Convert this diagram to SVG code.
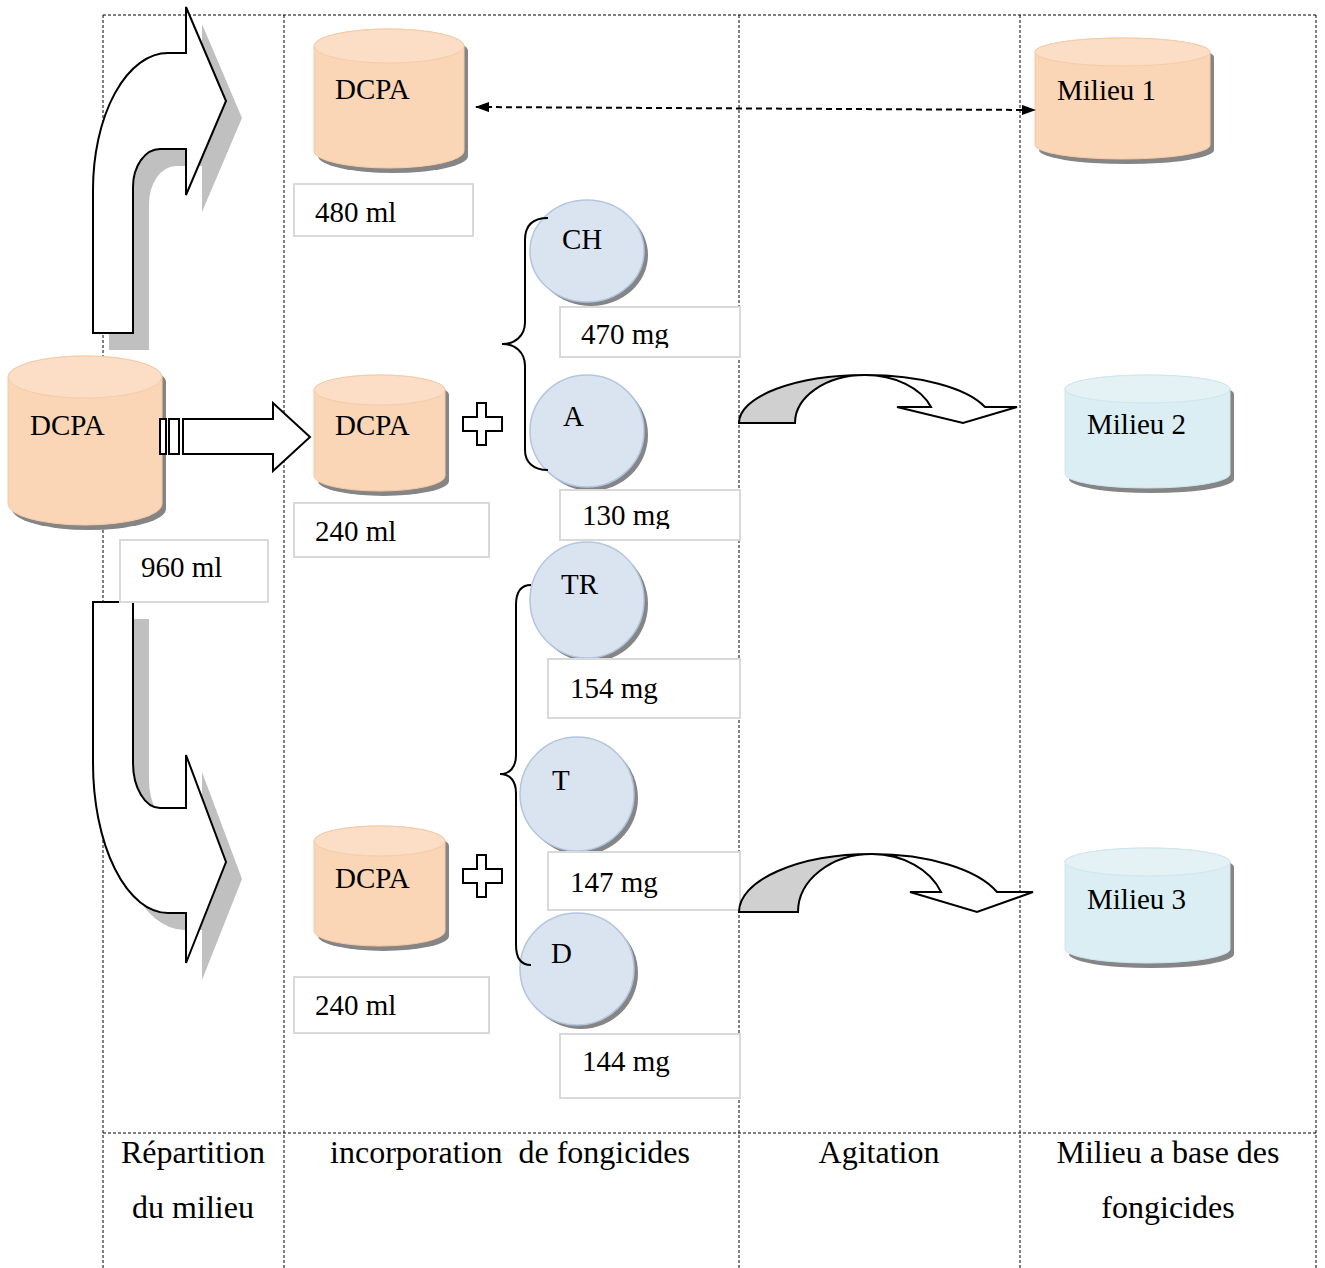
<svg xmlns="http://www.w3.org/2000/svg" width="1325" height="1268" viewBox="0 0 1325 1268">
<style>
.grid{stroke:#000;stroke-width:1;stroke-dasharray:3,2;fill:none}
.t{font-family:"Liberation Serif","Times New Roman",serif;font-size:29px;fill:#000}
.lbl{font-family:"Liberation Serif","Times New Roman",serif;font-size:32px;fill:#000;text-anchor:middle;white-space:pre}
.box{fill:#fff;stroke:#d9d9d9;stroke-width:2}
.peach{fill:#fad5b6;stroke:#f6cba8;stroke-width:1}
.peachcap{fill:#fbdec5;stroke:#f6cba8;stroke-width:1}
.blue{fill:#daeef3;stroke:#cfe6ee;stroke-width:1}
.bluecap{fill:#e4f2f6;stroke:#cfe6ee;stroke-width:1}
.shadow{fill:#858585}
.circ{fill:#dae3f0;stroke:#b3c6df;stroke-width:1.5}
.arr{fill:#fff;stroke:#000;stroke-width:2;stroke-linejoin:miter}
.ashadow{fill:#c0c0c0}
.brace{fill:none;stroke:#000;stroke-width:2}
.curvg{fill:#d0d0d0;stroke:#000;stroke-width:2}
</style>
<defs>
<marker id="ah" viewBox="0 0 14 10" refX="13" refY="5" markerWidth="14" markerHeight="10" markerUnits="userSpaceOnUse" orient="auto-start-reverse">
<path d="M0,0 L14,5 L0,10 Z" fill="#000"/>
</marker>
<clipPath id="c470"><rect x="560" y="307" width="180" height="41"/></clipPath>
<clipPath id="c130"><rect x="560" y="490" width="180" height="39"/></clipPath>
</defs>

<g id="grid">
<path class="grid" d="M103,15 H1316 M103,1133 H1316 M103,15 V1268 M284,15 V1268 M739,15 V1268 M1020,15 V1268 M1316,15 V1268"/>
</g>

<g id="labels">
<text class="lbl" x="193" y="1163">Répartition</text>
<text class="lbl" x="193" y="1218">du milieu</text>
<text class="lbl" x="510" y="1163">incorporation  de fongicides</text>
<text class="lbl" x="879" y="1163">Agitation</text>
<text class="lbl" x="1168" y="1163">Milieu a base des</text>
<text class="lbl" x="1168" y="1218">fongicides</text>
</g>

<g id="arrow-up">
<path class="ashadow" transform="translate(16,17)" d="M93,333 L93,190 A75,137 0 0 1 168,53 L186,53 L186,7 L226,101 L186,195 L186,149 L160,149 A27,38 0 0 0 133,187 L133,333 Z"/>
<path class="arr" d="M93,333 L93,190 A75,137 0 0 1 168,53 L186,53 L186,7 L226,101 L186,195 L186,149 L160,149 A27,38 0 0 0 133,187 L133,333 Z"/>
</g>

<g id="arrow-down">
<path class="ashadow" transform="translate(16,17)" d="M93,602 L133,602 L133,763 A27,45 0 0 0 160,808 L186,808 L186,755 L226,862 L186,963 L186,913 L168,913 A75,150 0 0 1 93,763 Z"/>
<path class="arr" d="M93,602 L133,602 L133,763 A27,45 0 0 0 160,808 L186,808 L186,755 L226,862 L186,963 L186,913 L168,913 A75,150 0 0 1 93,763 Z"/>
</g>

<g id="dcpa-main">
<path class="shadow" transform="translate(4,5)" d="M8,377 L8,504 A77,21 0 0 0 162,504 L162,377 A77,21 0 0 0 8,377 Z"/>
<path class="peach" d="M8,377 L8,504 A77,21 0 0 0 162,504 L162,377 A77,21 0 0 0 8,377 Z"/>
<ellipse class="peachcap" cx="85" cy="377" rx="77" ry="21"/>
<text class="t" x="30" y="435">DCPA</text>
</g>
<g id="box-960">
<rect class="box" x="120" y="540" width="148" height="62"/>
<text class="t" x="141" y="577">960 ml</text>
</g>

<g id="arrow-right">
<rect class="arr" x="160" y="419" width="6" height="35"/>
<rect class="arr" x="169" y="419" width="10" height="35"/>
<path class="arr" d="M183,419 L273,419 L273,403 L310,437 L273,471 L273,454 L183,454 Z"/>
</g>

<g id="dcpa-480">
<path class="shadow" transform="translate(4,5)" d="M314,46 L314,151 A75,17 0 0 0 464,151 L464,46 A75,17 0 0 0 314,46 Z"/>
<path class="peach" d="M314,46 L314,151 A75,17 0 0 0 464,151 L464,46 A75,17 0 0 0 314,46 Z"/>
<ellipse class="peachcap" cx="389" cy="46" rx="75" ry="17"/>
<text class="t" x="335" y="99">DCPA</text>
</g>
<g id="box-480">
<rect class="box" x="294" y="184" width="179" height="52"/>
<text class="t" x="315" y="222">480 ml</text>
</g>

<g id="dcpa-240a">
<path class="shadow" transform="translate(4,5)" d="M314,390 L314,476 A65.5,15 0 0 0 445,476 L445,390 A65.5,15 0 0 0 314,390 Z"/>
<path class="peach" d="M314,390 L314,476 A65.5,15 0 0 0 445,476 L445,390 A65.5,15 0 0 0 314,390 Z"/>
<ellipse class="peachcap" cx="379.5" cy="390" rx="65.5" ry="15"/>
<text class="t" x="335" y="435">DCPA</text>
</g>
<g id="box-240a">
<rect class="box" x="294" y="503" width="195" height="54"/>
<text class="t" x="315" y="541">240 ml</text>
</g>

<g id="dcpa-240b">
<path class="shadow" transform="translate(4,5)" d="M314,841 L314,931 A65.5,15 0 0 0 445,931 L445,841 A65.5,15 0 0 0 314,841 Z"/>
<path class="peach" d="M314,841 L314,931 A65.5,15 0 0 0 445,931 L445,841 A65.5,15 0 0 0 314,841 Z"/>
<ellipse class="peachcap" cx="379.5" cy="841" rx="65.5" ry="15"/>
<text class="t" x="335" y="888">DCPA</text>
</g>
<g id="box-240b">
<rect class="box" x="294" y="977" width="195" height="56"/>
<text class="t" x="315" y="1015">240 ml</text>
</g>

<g id="plus1">
<path class="arr" d="M477,403 L486,403 L486,417 L502,417 L502,431 L486,431 L486,445 L477,445 L477,431 L463,431 L463,417 L477,417 Z"/>
</g>
<g id="plus2">
<path class="arr" transform="translate(0,452)" d="M477,403 L486,403 L486,417 L502,417 L502,431 L486,431 L486,445 L477,445 L477,431 L463,431 L463,417 L477,417 Z"/>
</g>

<g id="ch">
<ellipse class="shadow" cx="591" cy="255" rx="57" ry="51"/>
<ellipse class="circ" cx="587" cy="251" rx="57" ry="51"/>
<text class="t" x="562" y="249">CH</text>
</g>
<g id="box-470">
<rect class="box" x="560" y="307" width="180" height="50"/>
<text class="t" x="581" y="344" clip-path="url(#c470)">470 mg</text>
</g>
<g id="a">
<ellipse class="shadow" cx="591" cy="435" rx="57" ry="56"/>
<ellipse class="circ" cx="587" cy="431" rx="57" ry="56"/>
<text class="t" x="563" y="426">A</text>
</g>
<g id="box-130">
<rect class="box" x="560" y="490" width="180" height="50"/>
<text class="t" x="582" y="525" clip-path="url(#c130)">130 mg</text>
</g>
<g id="tr">
<ellipse class="shadow" cx="591" cy="604" rx="57" ry="58"/>
<ellipse class="circ" cx="587" cy="600" rx="57" ry="58"/>
<text class="t" x="561" y="594">TR</text>
</g>
<g id="box-154">
<rect class="box" x="548" y="659" width="192" height="59"/>
<text class="t" x="570" y="698">154 mg</text>
</g>
<g id="t">
<ellipse class="shadow" cx="581" cy="798" rx="57" ry="57"/>
<ellipse class="circ" cx="577" cy="794" rx="57" ry="57"/>
<text class="t" x="552" y="790">T</text>
</g>
<g id="box-147">
<rect class="box" x="548" y="852" width="192" height="58"/>
<text class="t" x="570" y="892">147 mg</text>
</g>
<g id="d">
<ellipse class="shadow" cx="581" cy="973" rx="57" ry="56"/>
<ellipse class="circ" cx="577" cy="969" rx="57" ry="56"/>
<text class="t" x="551" y="963">D</text>
</g>
<g id="box-144">
<rect class="box" x="560" y="1034" width="180" height="64"/>
<text class="t" x="582" y="1071">144 mg</text>
</g>

<g id="milieu1">
<path class="shadow" transform="translate(4,5)" d="M1035,52 L1035,145 A87.5,14 0 0 0 1210,145 L1210,52 A87.5,14 0 0 0 1035,52 Z"/>
<path class="peach" d="M1035,52 L1035,145 A87.5,14 0 0 0 1210,145 L1210,52 A87.5,14 0 0 0 1035,52 Z"/>
<ellipse class="peachcap" cx="1122.5" cy="52" rx="87.5" ry="14"/>
<text class="t" x="1057" y="100">Milieu 1</text>
</g>
<g id="milieu2">
<path class="shadow" transform="translate(4,5)" d="M1065,389 L1065,474 A82.5,14 0 0 0 1230,474 L1230,389 A82.5,14 0 0 0 1065,389 Z"/>
<path class="blue" d="M1065,389 L1065,474 A82.5,14 0 0 0 1230,474 L1230,389 A82.5,14 0 0 0 1065,389 Z"/>
<ellipse class="bluecap" cx="1147.5" cy="389" rx="82.5" ry="14"/>
<text class="t" x="1087" y="434">Milieu 2</text>
</g>
<g id="milieu3">
<path class="shadow" transform="translate(4,5)" d="M1065,862 L1065,949 A82.5,14 0 0 0 1230,949 L1230,862 A82.5,14 0 0 0 1065,862 Z"/>
<path class="blue" d="M1065,862 L1065,949 A82.5,14 0 0 0 1230,949 L1230,862 A82.5,14 0 0 0 1065,862 Z"/>
<ellipse class="bluecap" cx="1147.5" cy="862" rx="82.5" ry="14"/>
<text class="t" x="1087" y="909">Milieu 3</text>
</g>

<g id="connectors">
<path class="brace" d="M548,218 C533,218 525,225 525,240 L525,322 C525,336 515,344 502,344 C515,344 525,352 525,366 L525,450 C525,462 533,470 548,470"/>
<path class="brace" d="M531,585 C521,585 516,592 516,605 L516,755 C516,767 510,774 500,774 C510,774 516,781 516,793 L516,945 C516,958 521,965 531,965"/>
<line x1="476" y1="107" x2="1035" y2="110" stroke="#000" stroke-width="2" stroke-dasharray="6,4" marker-start="url(#ah)" marker-end="url(#ah)"/>
<path class="curvg" d="M739,423 A126,48 0 0 1 865,375 A70,48 0 0 0 795,423 Z"/>
<path class="arr" d="M865,375 A126,48 0 0 1 985,407 L1017,407 L963,423 L897,407 L931,407 A70,48 0 0 0 865,375 Z"/>
<path class="curvg" d="M739,912 A133,58 0 0 1 872,854 A74,58 0 0 0 798,912 Z"/>
<path class="arr" d="M872,854 A133,58 0 0 1 997,892 L1033,892 L977,912 L910,892 L941,892 A74,58 0 0 0 872,854 Z"/>
</g>
</svg>
